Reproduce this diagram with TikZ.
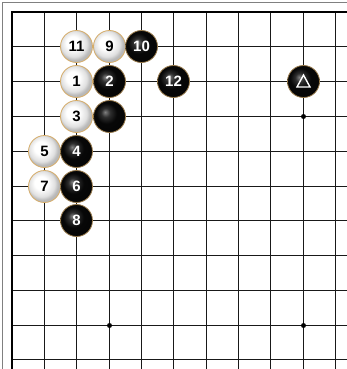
\documentclass[tikz,border=0pt]{standalone}
\usepackage{fontspec}
\setmainfont{Liberation Sans}
\begin{document}
\pgfdeclareradialshading{wstone}{\pgfpoint{-7bp}{7bp}}{color(0bp)=(white); color(10bp)=(white); color(20bp)=(black!12); color(25bp)=(black!28); color(50bp)=(black!28)}
\pgfdeclareradialshading{bstone}{\pgfpoint{-7bp}{7bp}}{color(0bp)=(black!50); color(7bp)=(black!82); color(16bp)=(black!97); color(50bp)=(black)}
\definecolor{rim}{RGB}{214,172,104}
\def\cx{{12,44.5,76.5,109.5,141.5,173.5,206.5,238.5,270.5,303.5,335.5}}
\def\ry{{12,46.5,81.5,116.5,151.5,186.5,220.5,255.5,290.5,325.5,359.5}}
\begin{tikzpicture}[x=1pt,y=-1pt,
  gridline/.style={line width=1.35pt, black!90},
  edgeline/.style={line width=2.6pt, black},
  frameline/.style={line width=1.4pt, black!50},
  stone/.style={circle, minimum size=32pt, inner sep=0pt, draw=rim, line width=0.8pt, font=\bfseries\fontsize{15}{15}\selectfont},
  wst/.style={stone, shading=wstone, text=black},
  bst/.style={stone, shading=bstone, text=white, draw=rim!70!black},
  hoshi/.style={circle, fill=black, inner sep=0pt, minimum size=5pt}]
\useasboundingbox (0,0) rectangle (347,369);
\fill[white] (0,0) rectangle (347,369);
% outer frame
\draw[frameline] (2.5,369) -- (2.5,2.5) -- (347,2.5);
% grid
\foreach \c in {1,...,10} \draw[gridline] ({\cx[\c]},12) -- ({\cx[\c]},369);
\foreach \r in {1,...,10} \draw[gridline] (12,{\ry[\r]}) -- (347,{\ry[\r]});
\draw[edgeline] (12,369) -- (12,12) -- (347,12);
% star points
\node[hoshi] (h1) at ({\cx[9]},{\ry[3]}) {};
\node[hoshi] (h2) at ({\cx[3]},{\ry[9]}) {};
\node[hoshi] (h3) at ({\cx[9]},{\ry[9]}) {};
% stones
\node[wst] (s11) at ({\cx[2]},{\ry[1]}) {11};
\node[wst] (s9)  at ({\cx[3]},{\ry[1]}) {9};
\node[bst] (s10) at ({\cx[4]},{\ry[1]}) {10};
\node[wst] (s1)  at ({\cx[2]},{\ry[2]}) {1};
\node[bst] (s2)  at ({\cx[3]},{\ry[2]}) {2};
\node[bst] (s12) at ({\cx[5]},{\ry[2]}) {12};
\node[bst] (tri) at ({\cx[9]},{\ry[2]}) {};
\node[wst] (s3)  at ({\cx[2]},{\ry[3]}) {3};
\node[bst] (sb)  at ({\cx[3]},{\ry[3]}) {};
\node[wst] (s5)  at ({\cx[1]},{\ry[4]}) {5};
\node[bst] (s4)  at ({\cx[2]},{\ry[4]}) {4};
\node[wst] (s7)  at ({\cx[1]},{\ry[5]}) {7};
\node[bst] (s6)  at ({\cx[2]},{\ry[5]}) {6};
\node[bst] (s8)  at ({\cx[2]},{\ry[6]}) {8};
% triangle mark
\draw[white, line width=1.4pt, line join=miter]
  ([shift={(0,-6.5)}]tri.center) -- ([shift={(6.5,5.5)}]tri.center) -- ([shift={(-6.5,5.5)}]tri.center) -- cycle;
\end{tikzpicture}
\end{document}
